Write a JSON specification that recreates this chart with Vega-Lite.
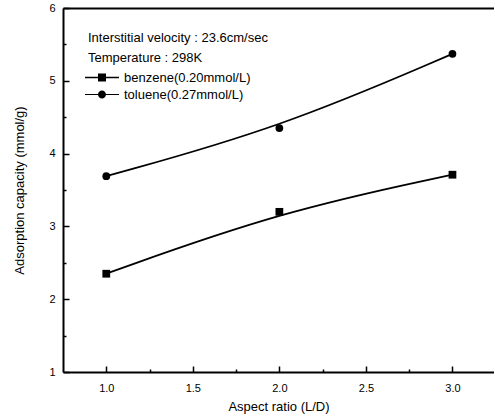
{
  "$schema": "https://vega.github.io/schema/vega-lite/v6.json",
  "autosize": {"type": "none"},
  "padding": {"left": 63, "top": 8, "right": 0, "bottom": 45},
  "width": 431,
  "height": 364,
  "background": "white",
  "config": {
    "font": "Liberation Sans",
    "view": {"stroke": null},
    "axis": {
      "domainColor": "black",
      "domainWidth": 2,
      "tickColor": "black",
      "tickWidth": 1.5,
      "grid": false,
      "labelFont": "Liberation Sans",
      "labelFontSize": 11,
      "labelColor": "black",
      "titleFont": "Liberation Sans",
      "titleFontSize": 13,
      "titleFontWeight": "normal",
      "titleColor": "black"
    }
  },
  "data": {
    "values": [
      {"x": 1, "y": 2.35, "series": "benzene(0.20mmol/L)"},
      {"x": 2, "y": 3.2, "series": "benzene(0.20mmol/L)"},
      {"x": 3, "y": 3.71, "series": "benzene(0.20mmol/L)"},
      {"x": 1, "y": 3.69, "series": "toluene(0.27mmol/L)"},
      {"x": 2, "y": 4.35, "series": "toluene(0.27mmol/L)"},
      {"x": 3, "y": 5.37, "series": "toluene(0.27mmol/L)"}
    ]
  },
  "layer": [
    {
      "mark": {"type": "line", "interpolate": "basis", "color": "black", "strokeWidth": 1.8},
      "encoding": {
        "x": {
          "field": "x", "type": "quantitative",
          "scale": {"domain": [0.75, 3.24], "nice": false, "zero": false},
          "axis": {
            "title": "Aspect ratio (L/D)",
            "values": [1, 1.5, 2, 2.5, 3],
            "format": ".1f",
            "tickSize": -6,
            "labelPadding": 16,
            "titlePadding": 7,
            "orient": "bottom"
          }
        },
        "y": {
          "field": "y", "type": "quantitative",
          "scale": {"domain": [1, 6], "nice": false, "zero": false},
          "axis": {
            "title": "Adsorption capacity (mmol/g)",
            "values": [1, 2, 3, 4, 5, 6],
            "format": "d",
            "tickSize": -6,
            "labelPadding": 14,
            "titlePadding": 22,
            "orient": "left"
          }
        },
        "detail": {"field": "series"}
      }
    },
    {
      "mark": {"type": "point", "filled": true, "color": "black", "opacity": 1, "size": 60},
      "encoding": {
        "x": {
          "field": "x", "type": "quantitative",
          "axis": {"orient": "bottom", "values": [1.25, 1.75, 2.25, 2.75], "tickSize": -3, "labels": false, "domain": false, "title": null}
        },
        "y": {
          "field": "y", "type": "quantitative",
          "axis": {"orient": "left", "values": [1.5, 2.5, 3.5, 4.5, 5.5], "tickSize": -3, "labels": false, "domain": false, "title": null}
        },
        "shape": {
          "field": "series", "type": "nominal",
          "scale": {"domain": ["benzene(0.20mmol/L)", "toluene(0.27mmol/L)"], "range": ["square", "circle"]},
          "legend": null
        }
      }
    },
    {
      "transform": [{"filter": "datum.x < 0"}],
      "mark": {"type": "point", "filled": true, "color": "black", "opacity": 1, "size": 256},
      "encoding": {
        "x": {
          "field": "x", "type": "quantitative",
          "axis": {"orient": "top", "ticks": false, "labels": false, "domain": true, "title": null}
        },
        "y": {"field": "y", "type": "quantitative", "axis": null},
        "shape": {
          "field": "series", "type": "nominal",
          "scale": {
            "domain": ["benzene(0.20mmol/L)", "toluene(0.27mmol/L)"],
            "range": [
              "M-1.375,-0.1H2.875V0.1H-1.375Z M0.25,-0.5H1.25V0.5H0.25Z",
              "M-1.375,-0.07H2.875V0.07H-1.375Z M0.25,0A0.5,0.5 0 1,1 1.25,0A0.5,0.5 0 1,1 0.25,0Z"
            ]
          },
          "legend": {
            "orient": "none",
            "legendX": 25,
            "legendY": 24,
            "padding": 0,
            "title": ["Interstitial velocity : 23.6cm/sec", "Temperature : 298K"],
            "titleFont": "Liberation Sans",
            "titleFontSize": 13,
            "titleFontWeight": "normal",
            "titleColor": "black",
            "titleLineHeight": 19.5,
            "titlePadding": 5,
            "titleLimit": 400,
            "labelFont": "Liberation Sans",
            "labelFontSize": 13,
            "labelColor": "black",
            "labelOffset": 20,
            "labelLimit": 400,
            "symbolSize": 256,
            "symbolFillColor": "black",
            "symbolStrokeColor": "black",
            "symbolStrokeWidth": 0,
            "symbolOpacity": 1,
            "rowPadding": 2
          }
        }
      }
    }
  ],
  "resolve": {
    "axis": {"x": "independent", "y": "independent"},
    "scale": {"shape": "independent"},
    "legend": {"shape": "independent"}
  }
}
